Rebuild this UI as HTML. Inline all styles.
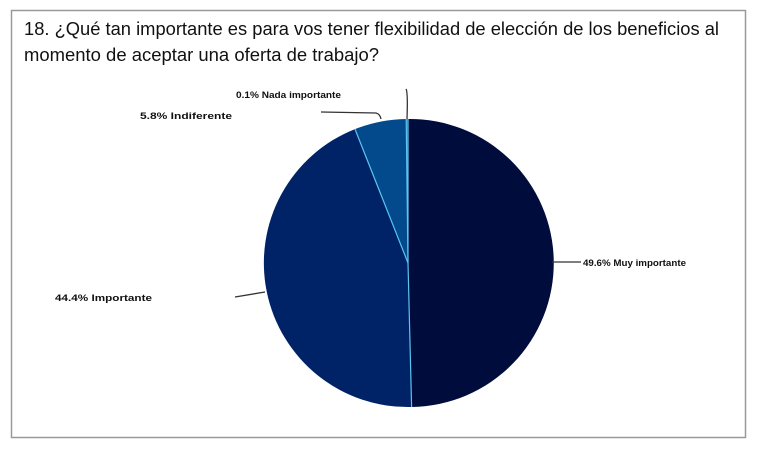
<!DOCTYPE html>
<html><head><meta charset="utf-8"><style>
html,body{margin:0;padding:0;background:#fff;}
svg{display:block;}
</style></head><body>
<svg width="760" height="460" viewBox="0 0 760 460" xmlns="http://www.w3.org/2000/svg">
<rect x="0" y="0" width="760" height="460" fill="#fff"/>
<rect x="11.5" y="10.5" width="734" height="427" fill="#fff" stroke="#9a9a9a" stroke-width="1.5"/>
<g font-family="Liberation Sans, sans-serif" fill="#111">
<text x="24" y="35" font-size="18" textLength="695" lengthAdjust="spacingAndGlyphs">18. ¿Qué tan importante es para vos tener flexibilidad de elección de los beneficios al</text>
<text x="24" y="61" font-size="18" textLength="355" lengthAdjust="spacingAndGlyphs">momento de aceptar una oferta de trabajo?</text>
</g>
<g stroke="none">
<path d="M408,263 L408,119 A144,144 0 0,1 411.6,407 Z" fill="#000c3c"/>
<path d="M408,263 L411.6,407 A144,144 0 0,1 355,129.1 Z" fill="#002368"/>
<path d="M408,263 L355,129.1 A144,144 0 0,1 406.2,119 Z" fill="#024a8c"/>
<path d="M408,263 L406.2,119 A144,144 0 0,1 407.5,119 Z" fill="#0a66b0"/>
</g>
<g stroke="#5cc4f0" stroke-width="1.2">
<line x1="408" y1="263" x2="408" y2="119"/>
<line x1="408" y1="263" x2="411.6" y2="407"/>
<line x1="408" y1="263" x2="355" y2="129.1"/>
<line x1="408" y1="263" x2="406.2" y2="119"/>
</g>
<g stroke="#333" stroke-width="1.3" fill="none">
<line x1="552" y1="262" x2="581" y2="262"/>
<line x1="235" y1="297" x2="265" y2="292"/>
<path d="M321,112 L376,113 Q380,114 381,119"/>
<path d="M406,89 Q408,92 407,119"/>
</g>
<g font-family="Liberation Sans, sans-serif" font-size="9" font-weight="bold" fill="#111">
<text x="583" y="266" textLength="103" lengthAdjust="spacingAndGlyphs">49.6% Muy importante</text>
<text x="55" y="301" textLength="97" lengthAdjust="spacingAndGlyphs">44.4% Importante</text>
<text x="140" y="119" textLength="92" lengthAdjust="spacingAndGlyphs">5.8% Indiferente</text>
<text x="236" y="98" textLength="105" lengthAdjust="spacingAndGlyphs">0.1% Nada importante</text>
</g>
</svg>
</body></html>
